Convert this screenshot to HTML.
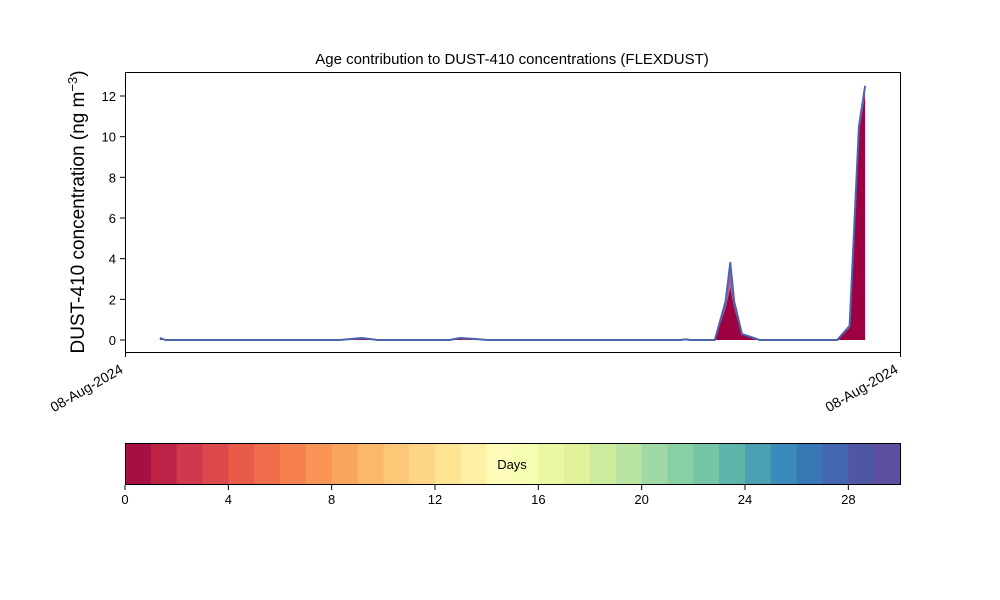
<!DOCTYPE html>
<html><head><meta charset="utf-8"><style>
body{margin:0;background:#fff}
svg{display:block;font-family:"Liberation Sans","DejaVu Sans",sans-serif}
</style></head><body>
<svg id="c" width="1000" height="600" viewBox="0 0 1000 600">
<rect width="1000" height="600" fill="#fff"/>
<text x="512" y="64" text-anchor="middle" font-size="15">Age contribution to DUST-410 concentrations (FLEXDUST)</text>
<g id="plot"></g>
<rect x="125.5" y="72.5" width="775" height="280" fill="none" stroke="#000" stroke-width="1"/>
<g id="yaxis"></g>
<text transform="translate(84,212) rotate(-90)" text-anchor="middle" font-size="19">DUST-410 concentration (ng m<tspan dy="-7" font-size="13">−3</tspan><tspan dy="7">)</tspan></text>
<g>
<line x1="125.5" y1="352" x2="125.5" y2="357" stroke="#000"/>
<line x1="900.5" y1="352" x2="900.5" y2="357" stroke="#000"/>
<text transform="translate(124,372) rotate(-30)" text-anchor="end" font-size="14">08-Aug-2024</text>
<text transform="translate(899,372) rotate(-30)" text-anchor="end" font-size="14">08-Aug-2024</text>
</g>
<g id="cbar"></g>
<rect x="125.5" y="443.5" width="775" height="41" fill="none" stroke="#000"/>
<text x="512" y="469" text-anchor="middle" font-size="13">Days</text>
</svg>
<script>
const times=[4.5,5.2,27.7,30.6,32.6,41.9,43.2,45.2,46.8,71.6,72.3,73,76.1,77.5,78.1,78.6,79.6,81.9,91.9,93.5,94.7,95.5];
const fresh=[0.05,0,0,0.05,0,0,0.05,0.02,0,0,0.02,0,0,1.6,2.6,1.6,0.25,0,0,0.6,10.2,12.1];
const total=[0.1,0,0,0.1,0,0,0.1,0.05,0,0,0.03,0,0,1.9,3.8,1.9,0.3,0,0,0.7,10.5,12.5];
const yTicks=[0,2,4,6,8,10,12];
const cbarTicks=[0,4,8,12,16,20,24,28];
const cbarColors=["#a50f43","#bd2347","#d0384e","#dc494c","#e85b49","#f06d4b","#f57f4d","#f99356","#fba65f","#fdb768","#fdc778","#fed585","#fee391","#fff0a6","#fffbb9","#f7fcb3","#ecf7a2","#dff299","#cdeb9d","#b9e3a0","#a1d9a4","#88cfa4","#73c5a5","#5db4a9","#4aa0b2","#3a8bbb","#3778b4","#4466ae","#4f56a4","#5e4fa2"];
const NS='http://www.w3.org/2000/svg';
const xs=t=>125+t*7.75, ys=v=>340-v*20.333;
const plot=document.getElementById('plot');
function mk(tag,at,par){const e=document.createElementNS(NS,tag);for(const k in at)e.setAttribute(k,at[k]);par.appendChild(e);return e;}
let d='M'+xs(times[0])+','+ys(0);
times.forEach((t,i)=>d+=' L'+xs(t)+','+ys(fresh[i]));
d+=' L'+xs(times[times.length-1])+','+ys(0)+' Z';
const a=mk('path',{d:d,fill:'#9e0142'},plot);


let d2='M'+xs(times[0])+','+ys(fresh[0]);
times.forEach((t,i)=>d2+=' L'+xs(t)+','+ys(total[i]));
for(let i=times.length-1;i>=0;i--)d2+=' L'+xs(times[i])+','+ys(fresh[i]);
d2+=' Z';
const a2=mk('path',{d:d2,fill:'#b06090'},plot);


const ln=mk('polyline',{points:times.map((t,i)=>xs(t)+','+ys(total[i])).join(' '),fill:'none',stroke:'#4a64ae','stroke-width':2,'stroke-linejoin':'round'},plot);


const ya=document.getElementById('yaxis');
yTicks.forEach(v=>{const y=ys(v);
mk('line',{x1:120,y1:y,x2:125,y2:y,stroke:'#000'},ya);
const tx=mk('text',{x:116,y:y+5,'text-anchor':'end','font-size':13},ya);tx.textContent=v;

});
const cb=document.getElementById('cbar');const w=775/30;
cbarColors.forEach((c,i)=>{const r=mk('rect',{x:125+i*w,y:443,width:w+0.6,height:42,fill:c},cb);

});
cbarTicks.forEach(v=>{const x=125+v*w;
mk('line',{x1:x,y1:485,x2:x,y2:490,stroke:'#000'},cb);
const tx=mk('text',{x:x,y:504,'text-anchor':'middle','font-size':13},cb);tx.textContent=v;

});
</script>
</body></html>
